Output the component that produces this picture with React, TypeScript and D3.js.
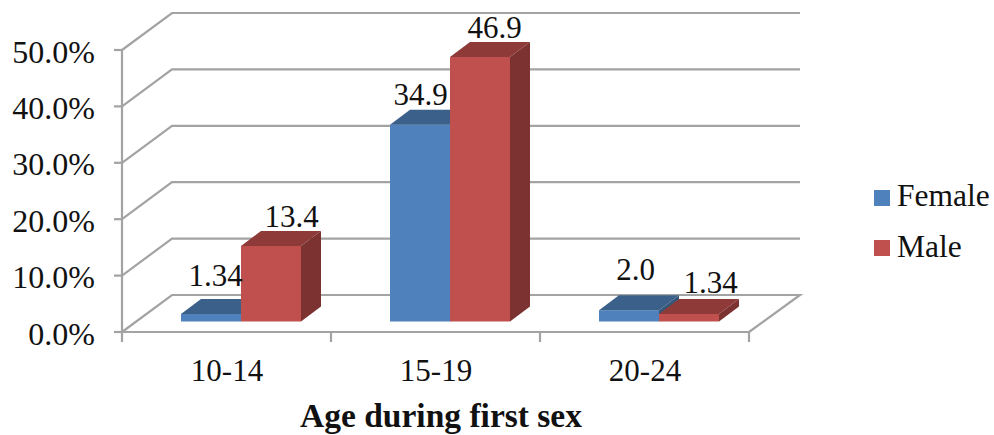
import React from "react";
import * as d3 from "d3";

const categories = ["10-14", "15-19", "20-24"];
const seriesNames = ["Female", "Male"];
const female = [1.34, 34.9, 2.0];
const male = [13.4, 46.9, 1.34];
const femaleLabels = ["1.34", "34.9", "2.0"];
const maleLabels = ["13.4", "46.9", "1.34"];
const yTicks = [0, 10, 20, 30, 40, 50];
const femaleLabelPos = [[4, 28], [0, 20], [6, 30]];
const maleLabelPos = [[20, 19], [14, 19], [21, 21]];

const COLORS = { Female: ["#4f81bd", "#3b6089", "#345779"], Male: ["#c0504d", "#8e3a38", "#7c3230"] } as Record<string, string[]>;
const GRID = "#a3a3a3";
const FONT = "'Liberation Serif', serif";

const y = d3.scaleLinear().domain([0, 50]).range([332, 50]);
const x = d3.scaleBand<string>().domain(categories).range([122, 749]);
const wall = { dx: 50, dy: -37 };
const depth = { dx: 20, dy: -15 };
const inset = { dx: 15, dy: -10.5 };
const barW = 60;

function Bar({ cx, v, side, name }: { cx: number; v: number; side: number; name: string }) {
  const xl = cx + side * barW + inset.dx - 0.5;
  const yb = y(0) + inset.dy;
  const h = y(0) - y(v);
  const yt = yb - h;
  const [front, top, right] = COLORS[name];
  const xr = xl + barW;
  return (
    <g>
      <rect x={xl} y={yt} width={barW} height={h} fill={front} />
      <polygon points={`${xl},${yt} ${xl + depth.dx},${yt + depth.dy} ${xr + depth.dx},${yt + depth.dy} ${xr},${yt}`} fill={top} />
      <polygon points={`${xr},${yt} ${xr + depth.dx},${yt + depth.dy} ${xr + depth.dx},${yb + depth.dy} ${xr},${yb}`} fill={right} />
    </g>
  );
}

export default function App() {
  const xEnd = x.range()[1];
  const barLabel = (cat: string, i: number, side: number, v: number, t: string, pos: number[]) => {
    const cx = x(cat)! + x.bandwidth() / 2 + side * barW + barW / 2 + inset.dx + pos[0];
    const yTop = y(0) + inset.dy - (y(0) - y(v));
    return (
      <text key={`${cat}-${side}`} x={cx} y={yTop - pos[1]} textAnchor="middle" fontSize={31} fill="#111" fontFamily={FONT}>{t}</text>
    );
  };
  return (
    <svg width={994} height={435} style={{ position: "absolute", left: 0, top: 0, background: "#fff" }}>
      {yTicks.map((t) => (
        <polyline key={t} fill="none" stroke={GRID} strokeWidth={2.2}
          points={t === 0
            ? `${x.range()[0]},${y(t)} ${x.range()[0] + wall.dx},${y(t) + wall.dy} ${xEnd + wall.dx + 1},${y(t) + wall.dy} ${xEnd},${y(t)}`
            : `${x.range()[0]},${y(t)} ${x.range()[0] + wall.dx},${y(t) + wall.dy} ${xEnd + wall.dx + 1},${y(t) + wall.dy}`} />
      ))}
      <line x1={122} x2={122} y1={y(50)} y2={y(0)} stroke={GRID} strokeWidth={2.2} />
      <line x1={122} x2={xEnd} y1={y(0)} y2={y(0)} stroke={GRID} strokeWidth={2.2} />
      {yTicks.map((t) => (
        <g key={t}>
          <line x1={114} x2={122} y1={y(t)} y2={y(t)} stroke={GRID} strokeWidth={2.2} />
          <text x={95} y={y(t) + 12.5} textAnchor="end" fontSize={32} fill="#111" fontFamily={FONT}>{`${t.toFixed(1)}%`}</text>
        </g>
      ))}
      {[...categories.map((c) => x(c)!), xEnd].map((px) => (
        <line key={px} x1={px} x2={px} y1={y(0)} y2={y(0) + 10} stroke={GRID} strokeWidth={2.2} />
      ))}
      {categories.map((c, i) => {
        const cx = x(c)! + x.bandwidth() / 2;
        return (
          <g key={c}>
            <Bar cx={cx} v={female[i]} side={-1} name="Female" />
            <Bar cx={cx} v={male[i]} side={0} name="Male" />
            <text x={cx + 0.5} y={381} textAnchor="middle" fontSize={31} fill="#111" fontFamily={FONT}>{c}</text>
          </g>
        );
      })}
      {categories.map((c, i) => barLabel(c, i, -1, female[i], femaleLabels[i], femaleLabelPos[i]))}
      {categories.map((c, i) => barLabel(c, i, 0, male[i], maleLabels[i], maleLabelPos[i]))}
      {seriesNames.map((n, i) => (
        <g key={n}>
          <rect x={874} y={190 + i * 50} width={16} height={16} fill={COLORS[n][0]} />
          <text x={897} y={206 + i * 51} fontSize={31.5} fill="#111" fontFamily={FONT}>{n}</text>
        </g>
      ))}
      <text x={441} y={427} textAnchor="middle" fontSize={33.5} fontWeight="bold" fill="#111" fontFamily={FONT}>Age during first sex</text>
    </svg>
  );
}
